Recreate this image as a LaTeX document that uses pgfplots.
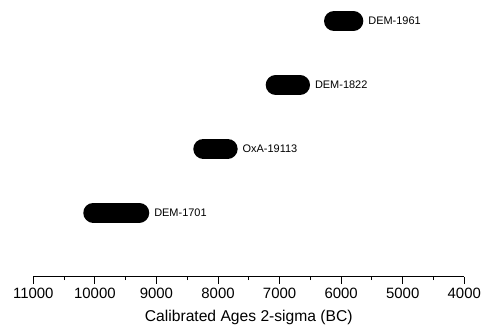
\documentclass[border=0pt]{standalone}
\usepackage{pgfplots}
\pgfplotsset{compat=1.18}
\usepackage{fontspec}
\setmainfont{Liberation Sans}
\begin{document}
\begin{tikzpicture}
\begin{axis}[
  at={(0,0)}, anchor=south west,
  scale only axis,
  width=431bp, height=276.5bp,
  xmin=4000, xmax=11000, ymin=0, ymax=4.33,
  x dir=reverse,
  axis x line*=bottom,
  axis y line=none,
  xtick={4000,5000,...,11000},
  minor xtick={4500,5500,...,10500},
  scaled x ticks=false,
  tick align=outside,
  major tick length=7bp,
  minor tick length=3.5bp,
  every tick/.style={black, line width=0.9pt},
  axis line style={line width=0.9pt},
  /pgf/number format/assume math mode=true,
  /pgf/number format/1000 sep={},
  /pgf/number format/fixed,
  xticklabel style={font=\fontsize{15}{17}\selectfont, inner sep=0pt, yshift=-4bp},
  xlabel={Calibrated Ages 2-sigma (BC)},
  xlabel style={font=\fontsize{15.7}{17}\selectfont, inner sep=0pt, yshift=-12bp},
  clip=false,
]
\addplot[black, line width=20bp, line cap=round] coordinates {(10026,1) (9279,1)}
  node[pos=1, right, xshift=5bp, font=\fontsize{11}{13}\selectfont, inner sep=0pt] {DEM-1701};
\addplot[black, line width=20bp, line cap=round] coordinates {(8239,2) (7843,2)}
  node[pos=1, right, xshift=5bp, font=\fontsize{11}{13}\selectfont, inner sep=0pt] {OxA-19113};
\addplot[black, line width=20bp, line cap=round] coordinates {(7063,3) (6668,3)}
  node[pos=1, right, xshift=5bp, font=\fontsize{11}{13}\selectfont, inner sep=0pt] {DEM-1822};
\addplot[black, line width=20bp, line cap=round] coordinates {(6116,4) (5802,4)}
  node[pos=1, right, xshift=5bp, font=\fontsize{11}{13}\selectfont, inner sep=0pt] {DEM-1961};
\end{axis}
\pgfresetboundingbox
\path[use as bounding box] (-33.3bp,-52.5bp) rectangle (451.7bp,276.5bp);
\end{tikzpicture}
\end{document}
